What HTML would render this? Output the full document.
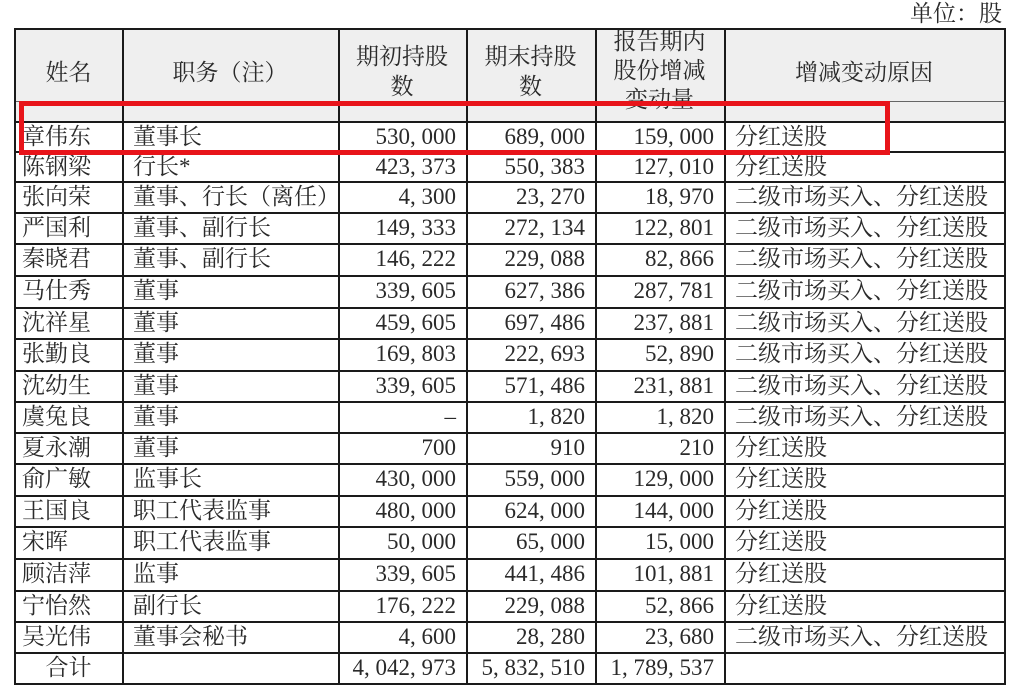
<!DOCTYPE html>
<html><head><meta charset="utf-8"><style>
html,body{margin:0;padding:0;background:#fff;}
body{width:1018px;height:695px;position:relative;overflow:hidden;font-family:"Liberation Serif","Noto Serif CJK SC",serif;color:#2a2a2a;}
.h{position:absolute;height:2px;background:#1a1a1a;}
.v{position:absolute;width:2px;background:#1a1a1a;}
.t{position:absolute;font-size:23px;line-height:30px;white-space:nowrap;}
.r{text-align:right;}
.c{text-align:center;}
</style></head><body>
<div style="position:absolute;left:15px;top:29px;width:989px;height:92px;background:#efefef"></div>
<div class="t" style="left:910px;top:-1px;">单位：股</div>
<div id="g"></div>
<div class="t c" style="left:15px;width:107px;top:58px;">姓名</div>
<div class="t c" style="left:122px;width:216px;top:58px;">职务（注）</div>
<div class="t c" style="left:338px;width:128px;top:42px;line-height:30px;">期初持股<br>数</div>
<div class="t c" style="left:466px;width:129px;top:42px;line-height:30px;">期末持股<br>数</div>
<div class="t c" style="left:595px;width:129px;top:27px;line-height:29px;">报告期内<br>股份增减<br>变动量</div>
<div class="t c" style="left:724px;width:280px;top:58px;">增减变动原因</div>
<div style="position:absolute;left:19px;top:101px;width:861px;height:44px;border:5px solid #e8141a;"></div>
<script>
var rows=[["章伟东","董事长","530, 000","689, 000","159, 000","分红送股"],
["陈钢梁","行长*","423, 373","550, 383","127, 010","分红送股"],
["张向荣","董事、行长（离任）","4, 300","23, 270","18, 970","二级市场买入、分红送股"],
["严国利","董事、副行长","149, 333","272, 134","122, 801","二级市场买入、分红送股"],
["秦晓君","董事、副行长","146, 222","229, 088","82, 866","二级市场买入、分红送股"],
["马仕秀","董事","339, 605","627, 386","287, 781","二级市场买入、分红送股"],
["沈祥星","董事","459, 605","697, 486","237, 881","二级市场买入、分红送股"],
["张勤良","董事","169, 803","222, 693","52, 890","二级市场买入、分红送股"],
["沈幼生","董事","339, 605","571, 486","231, 881","二级市场买入、分红送股"],
["虞兔良","董事","–","1, 820","1, 820","二级市场买入、分红送股"],
["夏永潮","董事","700","910","210","分红送股"],
["俞广敏","监事长","430, 000","559, 000","129, 000","分红送股"],
["王国良","职工代表监事","480, 000","624, 000","144, 000","分红送股"],
["宋晖","职工代表监事","50, 000","65, 000","15, 000","分红送股"],
["顾洁萍","监事","339, 605","441, 486","101, 881","分红送股"],
["宁怡然","副行长","176, 222","229, 088","52, 866","分红送股"],
["吴光伟","董事会秘书","4, 600","28, 280","23, 680","二级市场买入、分红送股"],
[" 合计","","4, 042, 973","5, 832, 510","1, 789, 537",""]];
var ys=[121,151,181,212,243,275,307,338,370,401,432,463,495,526,558,590,621,652,683];
var xs=[14,122,338,466,595,724,1004];
var h='';
h+='<div class="h" style="left:14px;top:28px;width:992px"></div>';
h+='<div class="h" style="left:14px;top:101px;width:992px;height:1px;background:#666"></div>';
ys.forEach(function(y){h+='<div class="h" style="left:14px;top:'+y+'px;width:992px"></div>';});
xs.forEach(function(x){h+='<div class="v" style="left:'+x+'px;top:28px;height:657px"></div>';});
rows.forEach(function(r,i){var y=ys[i]+1;
 if(i==17){h+='<div class="t c" style="left:15px;width:107px;top:'+y+'px">合计</div>';}
 else h+='<div class="t" style="left:22px;top:'+y+'px">'+r[0]+'</div>';
 h+='<div class="t" style="left:133px;top:'+y+'px">'+r[1]+'</div>';
 h+='<div class="t r" style="left:338px;width:118px;top:'+y+'px">'+r[2]+'</div>';
 h+='<div class="t r" style="left:466px;width:119px;top:'+y+'px">'+r[3]+'</div>';
 h+='<div class="t r" style="left:595px;width:119px;top:'+y+'px">'+r[4]+'</div>';
 h+='<div class="t" style="left:735px;top:'+y+'px">'+r[5]+'</div>';
});
document.getElementById('g').innerHTML=h;
</script>
</body></html>
